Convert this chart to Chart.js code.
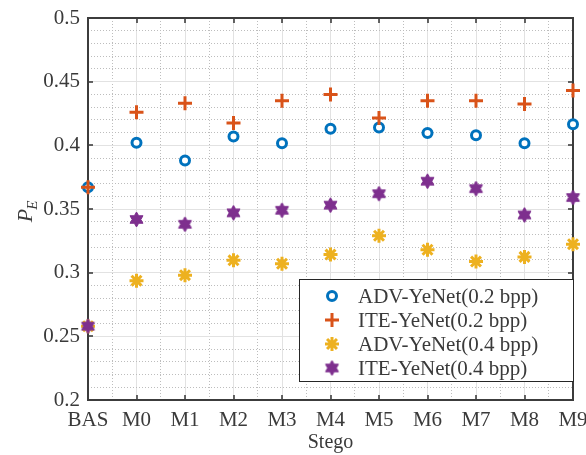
<!DOCTYPE html>
<html>
<head>
<meta charset="utf-8">
<title>P_E vs Stego</title>
<script src="https://cdn.jsdelivr.net/npm/chart.js@4.4.0/dist/chart.umd.min.js"></script>
<style>
  html, body { margin: 0; padding: 0; background: #fff; }
  #wrap { width: 586px; height: 455px; }
</style>
</head>
<body>
<div id="wrap"><canvas id="peChart" width="586" height="455"></canvas></div>
<script>
// data
const categories = ['BAS', 'M0', 'M1', 'M2', 'M3', 'M4', 'M5', 'M6', 'M7', 'M8', 'M9'];
const advYeNet02 = [0.367, 0.402, 0.388, 0.407, 0.4016, 0.413, 0.414, 0.4097, 0.408, 0.4016, 0.4165];
const iteYeNet02 = [0.367, 0.426, 0.433, 0.4175, 0.435, 0.440, 0.4215, 0.435, 0.435, 0.4325, 0.443];
const advYeNet04 = [0.258, 0.2937, 0.298, 0.3097, 0.307, 0.3142, 0.329, 0.318, 0.3087, 0.3124, 0.3224];
const iteYeNet04 = [0.258, 0.3418, 0.338, 0.347, 0.349, 0.353, 0.362, 0.3718, 0.366, 0.3453, 0.359];
const yTickLabels = ['0.2', '0.25', '0.3', '0.35', '0.4', '0.45', '0.5'];

const SERIF = '"Liberation Serif", "Times New Roman", serif';
const TEXT = '#3a3a3a';

// hexagram marker (matlab 'h') as an image point style
function makeHexagram(r, color) {
    const size = Math.ceil(r * 2) + 2;
    const c = document.createElement('canvas');
    c.width = c.height = size;
    const g = c.getContext('2d');
    const ri = r / Math.sqrt(3);
    g.beginPath();
    for (let k = 0; k < 12; k++) {
        const a = -Math.PI / 2 + k * Math.PI / 6;
        const rr = k % 2 === 0 ? r : ri;
        const px = size / 2 + rr * Math.cos(a), py = size / 2 + rr * Math.sin(a);
        if (k === 0) g.moveTo(px, py); else g.lineTo(px, py);
    }
    g.closePath();
    g.fillStyle = color;
    g.fill();
    g.strokeStyle = color;
    g.lineWidth = 1;
    g.stroke();
    return c;
}

const toPoints = arr => arr.map((v, i) => ({ x: i, y: v }));
const isMajorY = v => Math.abs(v * 20 - Math.round(v * 20)) < 1e-6;
const isMajorX = v => Math.abs(v - Math.round(v)) < 1e-6;

const datasets = [
    {
        label: 'ADV-YeNet(0.2 bpp)',
        data: toPoints(advYeNet02),
        pointStyle: 'circle',
        pointRadius: 4.5,
        pointBorderWidth: 3,
        borderColor: '#0072BD',
        backgroundColor: '#ffffff',
        order: 4,
    },
    {
        label: 'ITE-YeNet(0.2 bpp)',
        data: toPoints(iteYeNet02),
        pointStyle: 'cross',
        pointRadius: 7,
        pointBorderWidth: 3,
        borderColor: '#D95319',
        backgroundColor: '#D95319',
        order: 3,
    },
    {
        label: 'ADV-YeNet(0.4 bpp)',
        data: toPoints(advYeNet04),
        pointStyle: 'star',
        pointRadius: 7,
        pointBorderWidth: 3,
        borderColor: '#EDB120',
        backgroundColor: '#EDB120',
        order: 2,
    },
    {
        label: 'ITE-YeNet(0.4 bpp)',
        data: toPoints(iteYeNet04),
        pointStyle: makeHexagram(7.5, '#7E2F8E'),
        pointRadius: 7.5,
        pointBorderWidth: 0,
        borderColor: '#7E2F8E',
        backgroundColor: '#7E2F8E',
        order: 1,
    },
];
datasets.forEach(d => { d.showLine = false; d.clip = false; });

// box + inward ticks like matlab
const frameAndTicks = {
    id: 'frameAndTicks',
    beforeDatasetsDraw(chart) {
        const { ctx, chartArea: a, scales: { x, y } } = chart;
        ctx.save();
        ctx.strokeStyle = '#333333';
        ctx.lineWidth = 1.5;
        ctx.beginPath();
        categories.forEach((c, i) => {
            const px = Math.round(x.getPixelForValue(i));
            ctx.moveTo(px, a.bottom); ctx.lineTo(px, a.bottom - 5);
            ctx.moveTo(px, a.top); ctx.lineTo(px, a.top + 5);
        });
        yTickLabels.forEach(t => {
            const py = Math.round(y.getPixelForValue(parseFloat(t)));
            ctx.moveTo(a.left, py); ctx.lineTo(a.left + 5, py);
            ctx.moveTo(a.right, py); ctx.lineTo(a.right - 5, py);
        });
        ctx.stroke();
        ctx.lineWidth = 2;
        ctx.strokeStyle = '#3c3c3c';
        ctx.strokeRect(a.left, a.top, a.right - a.left, a.bottom - a.top);
        ctx.restore();
    }
};

// y axis title with subscript
const yTitle = {
    id: 'yTitle',
    afterDraw(chart) {
        const ctx = chart.ctx;
        ctx.save();
        ctx.translate(27, 211);
        ctx.rotate(-Math.PI / 2);
        ctx.fillStyle = TEXT;
        ctx.textBaseline = 'alphabetic';
        ctx.font = 'italic 22px ' + SERIF;
        const wP = ctx.measureText('P').width;
        ctx.font = 'italic 15px ' + SERIF;
        const wE = ctx.measureText('E').width;
        const x0 = -(wP + wE) / 2;
        ctx.font = 'italic 22px ' + SERIF;
        ctx.fillText('P', x0, 5);
        ctx.font = 'italic 15px ' + SERIF;
        ctx.fillText('E', x0 + wP - 1, 10);
        ctx.restore();
    }
};

// boxed legend in the lower right corner
const boxLegend = {
    id: 'boxLegend',
    afterDraw(chart) {
        const { ctx, chartArea: a } = chart;
        const w = 274, h = 102;
        const left = a.right - w, top = a.bottom - 19 - h;
        ctx.save();
        ctx.fillStyle = '#ffffff';
        ctx.fillRect(left, top, w, h);
        ctx.strokeStyle = '#262626';
        ctx.lineWidth = 1;
        ctx.strokeRect(Math.round(left) + 0.5, Math.round(top) + 0.5, w, h);
        ctx.font = '21px ' + SERIF;
        ctx.textBaseline = 'middle';
        chart.data.datasets.forEach((ds, i) => {
            const cy = top + 17 + i * 24;
            ctx.strokeStyle = ds.borderColor;
            ctx.fillStyle = ds.backgroundColor;
            ctx.lineWidth = ds.pointBorderWidth || 1;
            Chart.helpers.drawPoint(ctx, {
                pointStyle: ds.pointStyle,
                radius: ds.pointRadius,
                borderWidth: ds.pointBorderWidth,
                rotation: 0,
            }, left + 33, cy);
            ctx.fillStyle = TEXT;
            ctx.fillText(ds.label, left + 59, cy + 1);
        });
        ctx.restore();
    }
};

const ctx = document.getElementById('peChart').getContext('2d');
new Chart(ctx, {
    type: 'scatter',
    data: { datasets: datasets },
    plugins: [frameAndTicks, yTitle, boxLegend],
    options: {
        responsive: false,
        animation: false,
        layout: { padding: { left: 0, right: 13, top: 18, bottom: 0 } },
        plugins: {
            legend: { display: false },
            tooltip: { enabled: false },
        },
        scales: {
            x: {
                type: 'linear',
                min: 0,
                max: categories.length - 1,
                afterFit: s => { s.height = 55; s.paddingLeft = 0; s.paddingRight = 0; },
                ticks: {
                    stepSize: 0.5,
                    autoSkip: false,
                    maxRotation: 0,
                    padding: 8,
                    color: TEXT,
                    font: { family: SERIF, size: 21 },
                    callback: v => isMajorX(v) ? categories[Math.round(v)] : '',
                },
                grid: {
                    drawTicks: false,
                    color: c => isMajorX(c.tick.value) ? '#e2e2e2' : '#bdbdbd',
                    lineWidth: 1,
                },
                border: {
                    display: false,
                    dash: c => (c.tick && !isMajorX(c.tick.value)) ? [1, 2] : [],
                },
                title: {
                    display: true,
                    text: 'Stego',
                    color: TEXT,
                    font: { family: SERIF, size: 20 },
                    padding: { top: 0, bottom: 0 },
                },
            },
            y: {
                type: 'linear',
                min: 0.2,
                max: 0.5,
                afterFit: s => { s.width = 88; s.paddingTop = 0; s.paddingBottom = 0; },
                ticks: {
                    stepSize: 0.01,
                    autoSkip: false,
                    padding: 8,
                    color: TEXT,
                    font: { family: SERIF, size: 21 },
                    callback: v => {
                        const k = Math.round((v - 0.2) / 0.05);
                        return isMajorY(v) ? yTickLabels[k] : '';
                    },
                },
                grid: {
                    drawTicks: false,
                    color: c => isMajorY(c.tick.value) ? '#e2e2e2' : '#bdbdbd',
                    lineWidth: 1,
                },
                border: {
                    display: false,
                    dash: c => (c.tick && !isMajorY(c.tick.value)) ? [1, 2] : [],
                },
            },
        },
    },
});
</script>
</body>
</html>
